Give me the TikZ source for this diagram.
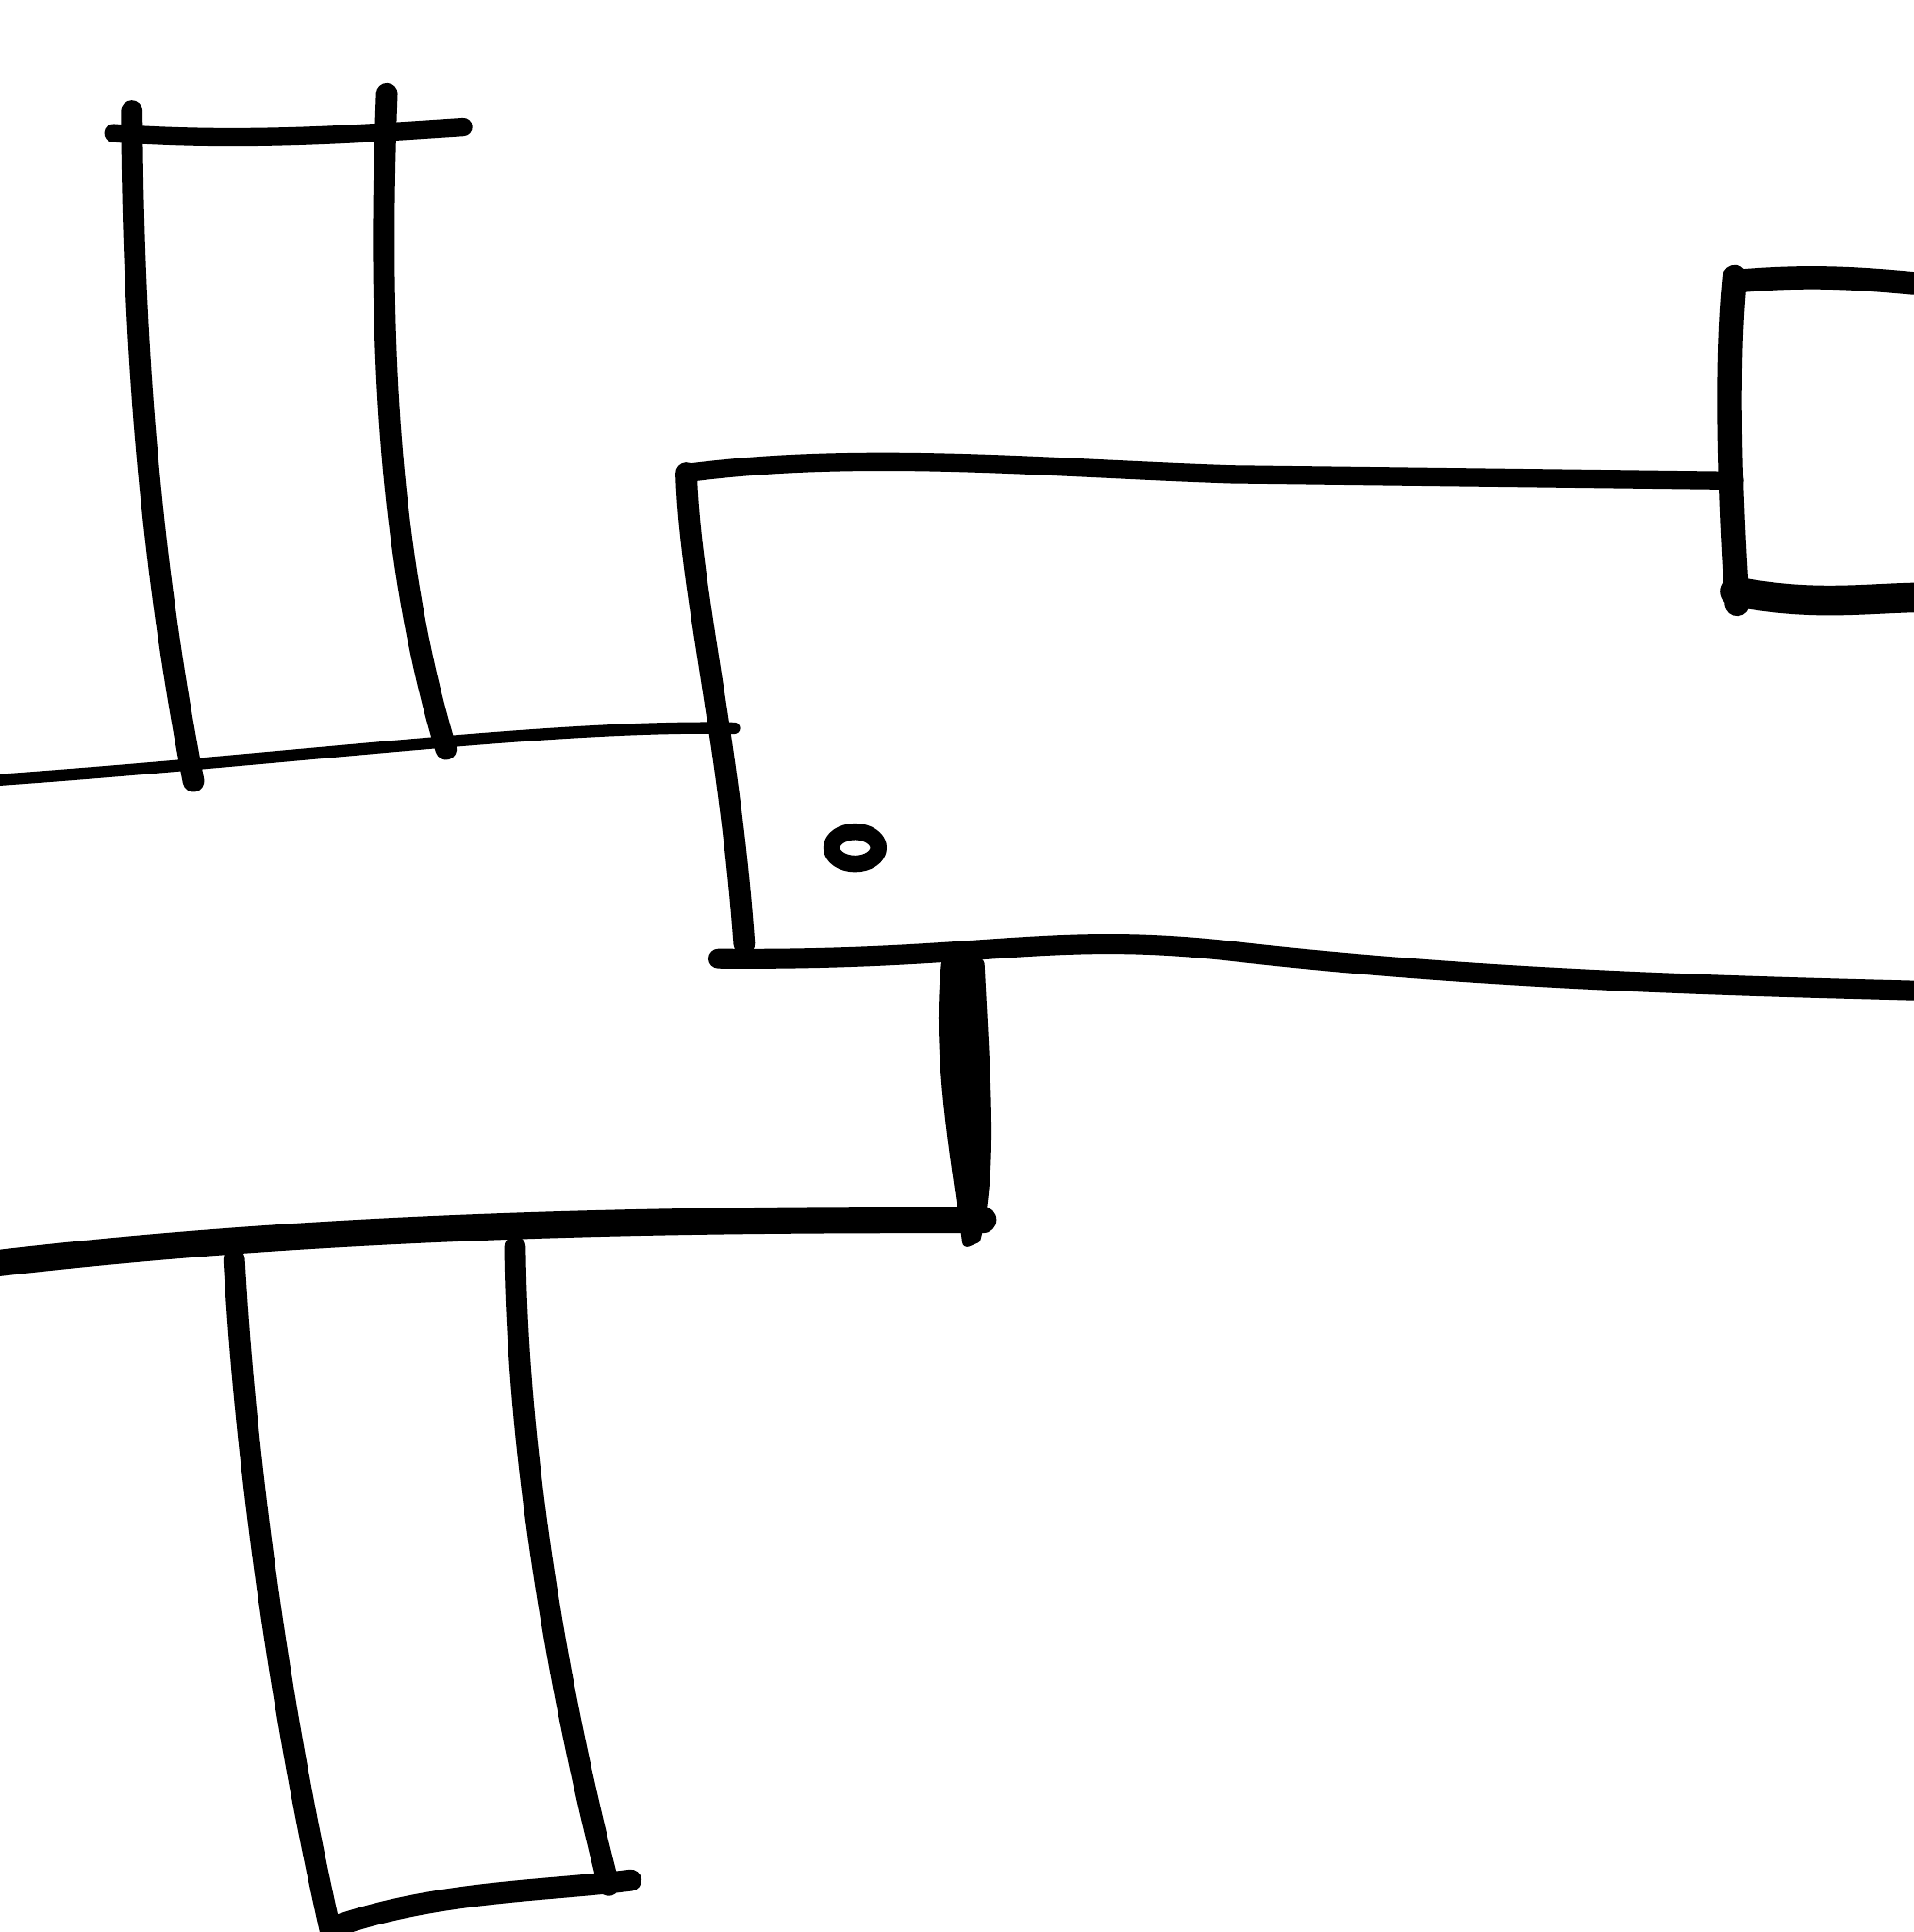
\documentclass[tikz,border=0pt]{standalone}
\begin{document}
\begin{tikzpicture}[x=0.01306cm,y=-0.01306cm,
    ink/.style={line width=6.5pt,line cap=round,line join=round},
    thinink/.style={line width=3.5pt,line cap=round}]
    \useasboundingbox[fill=white] (0,0) rectangle (1553,1568);
    % top left frame
    \draw[ink] (107,90) .. controls (108,300) and (125,470) .. (157,634);
    \draw[ink] (314,76) .. controls (305,300) and (320,470) .. (362,608);
    \draw[ink,line width=5.5pt] (92,108) .. controls (200,116) and (300,108) .. (376,103);
    \draw[thinink] (0,633) .. controls (250,615) and (450,588) .. (596,591);
    % middle block
    \draw[ink,line width=5.5pt] (557,384) .. controls (700,365) and (850,380) .. (1000,385) -- (1408,390);
    \draw[ink] (557,384) .. controls (560,480) and (592,600) .. (604,766);
    \draw[ink,line width=6pt] (583,778) .. controls (800,780) and (850,755) .. (1000,772) .. controls (1200,795) and (1400,800) .. (1553,804);
    \draw[ink,line width=5pt] (694,688) ellipse [x radius=19,y radius=13];
    % right block
    \draw[ink,line width=7.5pt] (1408,225) .. controls (1400,300) and (1405,420) .. (1410,490);
    \draw[ink,line width=7pt] (1412,228) .. controls (1470,223) and (1510,226) .. (1553,230);
    \draw[ink,line width=9pt] (1408,480) .. controls (1470,492) and (1510,486) .. (1553,485);
    % lower post
    \draw[ink,line width=3pt,fill] (768,782) .. controls (760,860) and (776,940) .. (785,1008)
        -- (792,1005) .. controls (806,950) and (800,880) .. (795,782) -- cycle;
    \draw[ink,line width=8pt] (0,1025) .. controls (300,990) and (600,990) .. (798,990);
    % bottom frame
    \draw[ink] (190,1022) .. controls (200,1200) and (230,1400) .. (268,1566);
    \draw[ink] (418,1012) .. controls (420,1200) and (460,1400) .. (494,1530);
    \draw[ink] (268,1565) .. controls (350,1535) and (440,1535) .. (512,1526);
\end{tikzpicture}
\end{document}
